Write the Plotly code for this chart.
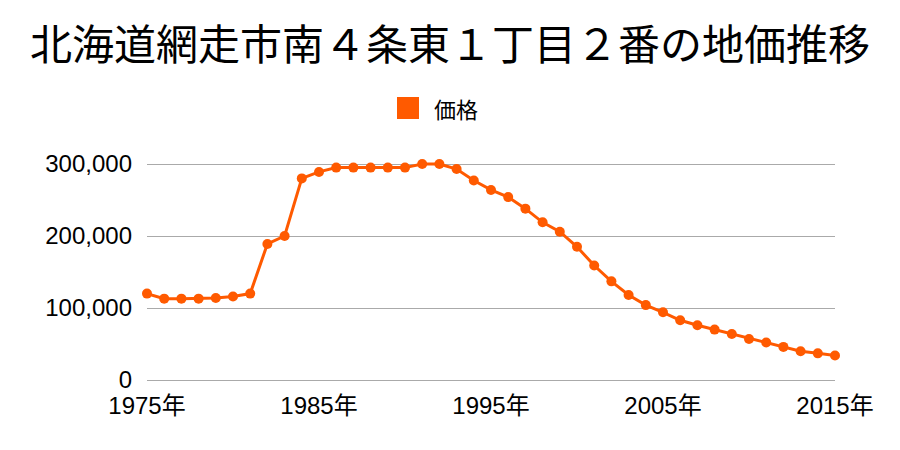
import plotly.graph_objects as go

years = list(range(1975, 2016))
prices = [120000, 113000, 113000, 113000, 114000, 116000, 120000,
          189000, 200000, 280000, 289000, 295000, 295000, 295000,
          295000, 295000, 300000, 300000, 293000, 277000, 264000,
          254000, 238000, 219000, 206000, 185000, 159000, 137000,
          118000, 104000, 94000, 83000, 76000, 70000, 64000,
          57000, 52000, 46000, 40000, 37000, 34000]
tick_years = [1975, 1985, 1995, 2005, 2015]
tick_labels = [f"{y}年" for y in tick_years]
y_ticks = [0, 100000, 200000, 300000]
y_labels = ["0", "100,000", "200,000", "300,000"]
series_name = "価格"

color = "#ff5a00"
font = "Noto Sans CJK JP, sans-serif"
tfont = "Liberation Sans, Noto Sans CJK JP, sans-serif"

TOP = 161
H = 450 - TOP - 70

fig = go.Figure()
fig.add_trace(go.Scatter(
    x=years, y=prices, mode="lines+markers",
    line=dict(color=color, width=3),
    marker=dict(color=color, size=10),
    showlegend=False, cliponaxis=False, name=series_name))

# legend drawn as a square swatch + label (plotly caps legend marker size)
fig.add_shape(type="rect", xref="paper", yref="paper",
              x0=(397 - 147) / 688, x1=(419 - 147) / 688,
              y0=(380 - 119) / H, y1=(380 - 97) / H,
              fillcolor=color, line=dict(width=0))
fig.add_annotation(text=series_name, xref="paper", yref="paper",
                   x=(432 - 147) / 688, y=(380 - 108) / H,
                   xanchor="left", yanchor="middle", showarrow=False,
                   font=dict(size=22, family=font, color="#000"))

fig.update_layout(
    width=900, height=450,
    margin=dict(l=147, r=65, t=TOP, b=70),
    paper_bgcolor="white", plot_bgcolor="white",
    font=dict(family=font, color="#000000", size=20),
    showlegend=False,
    title=dict(text="北海道網走市南４条東１丁目２番の地価推移",
               x=0.5, xanchor="center", y=0.9, yanchor="middle",
               font=dict(size=42, family=font, color="#000")),
    xaxis=dict(range=[1975, 2015], tickvals=tick_years, ticktext=tick_labels,
               showgrid=False, zeroline=False, showline=False,
               tickfont=dict(size=24, family=tfont), ticks="",
               ticklabelstandoff=9),
    yaxis=dict(range=[0, 300000 * H / 216], tickvals=y_ticks, ticktext=y_labels,
               showgrid=True, gridcolor="#aaaaaa", gridwidth=1,
               zeroline=True, zerolinecolor="#aaaaaa", zerolinewidth=1,
               showline=False, tickfont=dict(size=24, family=tfont), ticks="",
               ticklabelstandoff=14),
)

fig.write_html("out.html")
